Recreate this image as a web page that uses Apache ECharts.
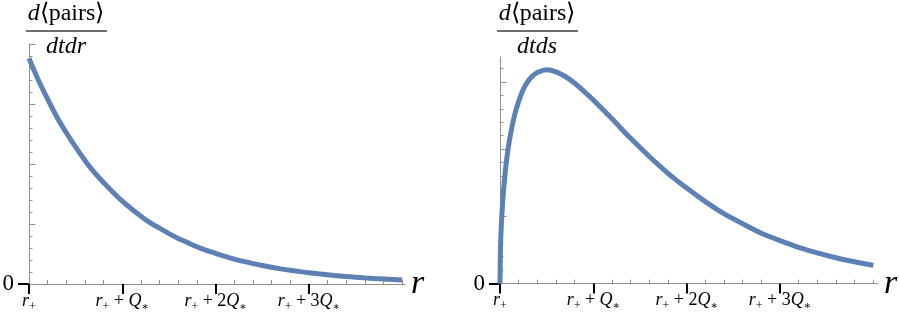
<!DOCTYPE html>
<html>
<head>
<meta charset="utf-8">
<script src="https://cdn.jsdelivr.net/npm/echarts@6/dist/echarts.min.js"></script>
<style>
html,body{margin:0;padding:0;background:#fff;}
#c{width:899px;height:315px;}
</style>
</head>
<body>
<div id="c"></div>
<script>
// ---- data ----
// left panel: d<pairs>/dtdr versus r (in units of Q*), y in tick units
var leftR = [0,0.1,0.2,0.3,0.4,0.5,0.6,0.7,0.8,0.9,1.0,1.1,1.2,1.3,1.4,1.5,1.6,1.7,1.8,1.9,2.0,
             2.1,2.2,2.3,2.4,2.5,2.6,2.7,2.8,2.9,3.0,3.1,3.2,3.3,3.4,3.5,3.6,3.7,3.8,3.9,4.0];
var leftVals = [18.8,17.0,15.4,13.9,12.6,11.4,10.3,9.3,8.45,7.65,6.9,6.25,5.65,5.1,4.65,4.2,3.8,3.45,3.1,2.8,2.55,
                2.3,2.08,1.88,1.7,1.54,1.39,1.26,1.14,1.03,0.94,0.85,0.77,0.69,0.63,0.57,0.51,0.46,0.42,0.38,0.34];
// right panel: d<pairs>/dtds versus r
var rightR = [0,0.005,0.01,0.02,0.04,0.06,0.08,0.1,0.15,0.2,0.25,0.3,0.35,0.4,0.5,0.6,0.7,0.8,0.9,1.0,
              1.2,1.4,1.6,1.8,2.0,2.2,2.4,2.6,2.8,3.0,3.2,3.4,3.6,3.8,4.0];
var rightVals = [0,2.6,3.7,5.1,7.1,8.55,9.7,10.6,12.35,13.55,14.45,15.05,15.45,15.7,15.9,15.75,15.4,14.9,14.3,13.65,
                 12.25,10.8,9.45,8.2,7.1,6.1,5.2,4.45,3.75,3.2,2.7,2.28,1.92,1.62,1.36];
// tick positions and labels
var xMajorTicks = [0,1,2,3];
var xMinorTicks = [0.2,0.4,0.6,0.8,1.2,1.4,1.6,1.8,2.2,2.4,2.6,2.8,3.2,3.4,3.6,3.8,4.0];
var xTickLabels = ['{i|r}{s|+}', '{i|r}{s|+}{n| + }{i|Q}{t|∗}', '{i|r}{s|+}{n| + 2}{i|Q}{t|∗}', '{i|r}{s|+}{n| + 3}{i|Q}{t|∗}'];
var leftYShort = [1,2,3,4,6,7,8,9,11,12,13,14,16,17,18,19];
var leftYLong = [5,10,15,20];
var rightYShort = [1,2,3,4,6,7,8,9,11,12,13,14,16];
var rightYLong = [5,10,15];
var yZeroTick = [0];
var yZeroLabel = '0';
var axisName = 'r';
var leftTitleNum = ['d', '⟨pairs⟩'];
var leftTitleDen = 'dtdr';
var rightTitleNum = ['d', '⟨pairs⟩'];
var rightTitleDen = 'dtds';

// ---- styling ----
var GREY = '#8f8f8f';
var BLUE = '#5E81B5';
var SERIF = 'Liberation Serif';

function pairs(xs, ys){ return xs.map(function(x,i){ return [x, ys[i]]; }); }

var rich = {
  i: {fontFamily: SERIF, fontStyle: 'italic', fontSize: 18, color: '#000', lineHeight: 18},
  n: {fontFamily: SERIF, fontSize: 18, color: '#000', lineHeight: 18},
  s: {fontFamily: SERIF, fontSize: 12, color: '#000', lineHeight: 12, padding: [11,0,0,0]},
  t: {fontFamily: 'DejaVu Serif', fontSize: 11, color: '#000', lineHeight: 11, padding: [12,0,0,0]}
};

function xAxesFor(gridIndex, xmax){
  return [
    { type: 'value', gridIndex: gridIndex, min: 0, max: xmax, position: 'bottom', offset: 0,
      axisLine: {show: true, onZero: false, lineStyle: {color: GREY, width: 1}},
      axisTick: {show: true, inside: true, length: 4, customValues: xMinorTicks, lineStyle: {color: GREY, width: 1}},
      axisLabel: {show: false}, splitLine: {show: false},
      name: axisName, nameLocation: 'end', nameGap: 6,
      nameTextStyle: {fontFamily: SERIF, fontStyle: 'italic', fontSize: 34, color: '#000', verticalAlign: 'middle', padding: [0,0,6,0]}
    },
    { type: 'value', gridIndex: gridIndex, min: 0, max: xmax, position: 'bottom', offset: 0,
      axisLine: {show: false},
      axisTick: {show: true, inside: false, length: 10, customValues: xMajorTicks, lineStyle: {color: '#000', width: 2}},
      axisLabel: {show: true, customValues: xMajorTicks, margin: 8, fontFamily: SERIF, fontSize: 18, color: '#000',
        formatter: function(v){ return xTickLabels[Math.round(v)]; }, rich: rich},
      splitLine: {show: false}
    }
  ];
}
function yAxesFor(gridIndex, ymax, shortT, longT){
  return [
    { type: 'value', gridIndex: gridIndex, min: 0, max: ymax, position: 'left', offset: 0,
      axisLine: {show: true, onZero: false, lineStyle: {color: GREY, width: 1}},
      axisTick: {show: true, inside: true, length: 3.5, customValues: shortT, lineStyle: {color: GREY, width: 1}},
      axisLabel: {show: false}, splitLine: {show: false}
    },
    { type: 'value', gridIndex: gridIndex, min: 0, max: ymax, position: 'left', offset: 0,
      axisLine: {show: false},
      axisTick: {show: true, inside: true, length: 6.5, customValues: longT, lineStyle: {color: GREY, width: 1}},
      axisLabel: {show: false}, splitLine: {show: false}
    },
    { type: 'value', gridIndex: gridIndex, min: 0, max: ymax, position: 'left', offset: 0,
      axisLine: {show: false},
      axisTick: {show: true, inside: false, length: 11, customValues: yZeroTick, lineStyle: {color: '#000', width: 2}},
      axisLabel: {show: true, customValues: yZeroTick, margin: 15, formatter: function(){ return yZeroLabel; },
        fontFamily: SERIF, fontSize: 23, color: '#000'},
      splitLine: {show: false}
    }
  ];
}

function fraction(cx, num, den, x0, x1){
  return [
    { type: 'text', x: cx, y: 14, style: {
        text: '{i|' + num[0] + '}{n|' + num[1] + '}', align: 'center', verticalAlign: 'middle',
        fontFamily: SERIF, fontSize: 24,
        rich: {
          i: {fontFamily: SERIF, fontStyle: 'italic', fontSize: 24, fill: '#000'},
          n: {fontFamily: SERIF, fontSize: 24, fill: '#000'}
        }
      }},
    { type: 'line', shape: {x1: x0, y1: 31, x2: x1, y2: 31}, style: {stroke: '#6e6e6e', lineWidth: 2} },
    { type: 'text', x: cx, y: 47, style: {
        text: den, align: 'center', verticalAlign: 'middle',
        fontFamily: SERIF, fontStyle: 'italic', fontSize: 24, fill: '#000'
      }}
  ];
}

var chart = echarts.init(document.getElementById('c'), null, {renderer: 'canvas'});
chart.setOption({
  animation: false,
  backgroundColor: '#fff',
  textStyle: {fontFamily: SERIF},
  grid: [
    {left: 29, top: 44, width: 376, height: 240, outerBoundsMode: 'none'},
    {left: 500, top: 57, width: 378, height: 226.6, outerBoundsMode: 'none'}
  ],
  xAxis: [].concat(xAxesFor(0, 4.03), xAxesFor(1, 4.05)),
  yAxis: [].concat(yAxesFor(0, 20, leftYShort, leftYLong), yAxesFor(1, 16.85, rightYShort, rightYLong)),
  graphic: [].concat(fraction(66, leftTitleNum, leftTitleDen, 26, 107), fraction(537, rightTitleNum, rightTitleDen, 497, 578)),
  series: [
    { type: 'line', xAxisIndex: 0, yAxisIndex: 0, data: pairs(leftR, leftVals),
      showSymbol: false, smooth: 0.3, clip: false,
      lineStyle: {color: BLUE, width: 5} },
    { type: 'line', xAxisIndex: 2, yAxisIndex: 3, data: pairs(rightR, rightVals),
      showSymbol: false, smooth: 0.3, clip: false,
      lineStyle: {color: BLUE, width: 5} }
  ]
});
</script>
</body>
</html>
